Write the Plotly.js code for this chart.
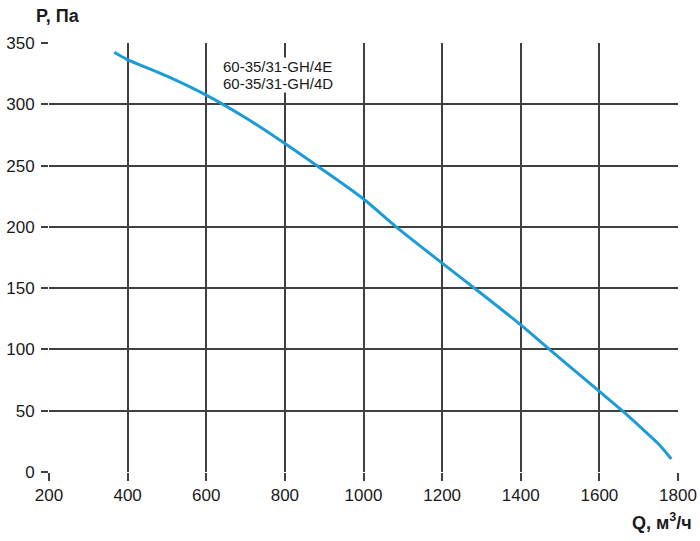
<!DOCTYPE html>
<html>
<head>
<meta charset="utf-8">
<script src="https://cdn.plot.ly/plotly-3.0.1.min.js"></script>
<style>html,body{margin:0;padding:0;background:#fff;}#chart{width:700px;height:541px;}</style>
</head>
<body>
<div id="chart"></div>
<script>
var flowQ = [366, 398, 500, 600, 700, 800, 881, 1000, 1083, 1200, 1282, 1400, 1473, 1600, 1658, 1710, 1750, 1783];
var pressureP = [342.4, 336.7, 323, 307.5, 289, 268, 250, 222.7, 200, 170.4, 150, 120, 100, 65.7, 50, 35, 23, 10.6];
var modelLabels = ["60-35/31-GH/4E", "60-35/31-GH/4D"];
var xTicks = [200, 400, 600, 800, 1000, 1200, 1400, 1600, 1800];
var yTicks = [0, 50, 100, 150, 200, 250, 300, 350];

var font = "Liberation Sans, Arial, sans-serif";
var gridCol = "#404040";
var trace = {
  x: flowQ, y: pressureP, type: "scatter", mode: "lines",
  line: {color: "#1b9bd7", width: 3, shape: "spline", smoothing: 0.8},
  hoverinfo: "none"
};
var layout = {
  width: 700, height: 541,
  margin: {l: 49, r: 22, t: 43, b: 69},
  paper_bgcolor: "#fff", plot_bgcolor: "#fff",
  showlegend: false,
  font: {family: font, size: 17, color: "#1a1a1a"},
  xaxis: {
    range: [200, 1800], tickvals: xTicks, ticktext: xTicks.map(String),
    showgrid: true, gridcolor: gridCol, gridwidth: 2,
    zeroline: false, showline: false,
    ticks: "outside", ticklen: 8, tickwidth: 2, tickcolor: gridCol,
    tickfont: {family: font, size: 17, color: "#1a1a1a"}
  },
  yaxis: {
    range: [0, 350], tickvals: yTicks, ticktext: yTicks.map(String),
    showgrid: true, gridcolor: gridCol, gridwidth: 2,
    zeroline: false, showline: false,
    ticks: "outside", ticklen: 7, tickwidth: 2, tickcolor: gridCol,
    ticklabelstandoff: 3,
    tickfont: {family: font, size: 17, color: "#1a1a1a"}
  },
  annotations: [
    {xref: "paper", yref: "paper", x: -0.024, y: 1.035, xanchor: "left", yanchor: "bottom",
     text: "<b>P, Па</b>", showarrow: false, font: {family: font, size: 18, color: "#1a1a1a"}},
    {xref: "paper", yref: "paper", x: 1.025, y: -0.085, xanchor: "right", yanchor: "top",
     text: "<b>Q, м<sup>3</sup>/ч</b>", showarrow: false, font: {family: font, size: 18, color: "#1a1a1a"}},
    {xref: "x", yref: "y", x: 641, y: 330.7, xanchor: "left", yanchor: "middle", align: "left",
     text: modelLabels[0], showarrow: false, bgcolor: "#fff", borderpad: 0,
     font: {family: font, size: 15, color: "#1a1a1a"}},
    {xref: "x", yref: "y", x: 641, y: 317.1, xanchor: "left", yanchor: "middle", align: "left",
     text: modelLabels[1], showarrow: false, bgcolor: "#fff", borderpad: 0,
     font: {family: font, size: 15, color: "#1a1a1a"}}
  ]
};
Plotly.newPlot("chart", [trace], layout, {staticPlot: true, displayModeBar: false});
</script>
</body>
</html>
